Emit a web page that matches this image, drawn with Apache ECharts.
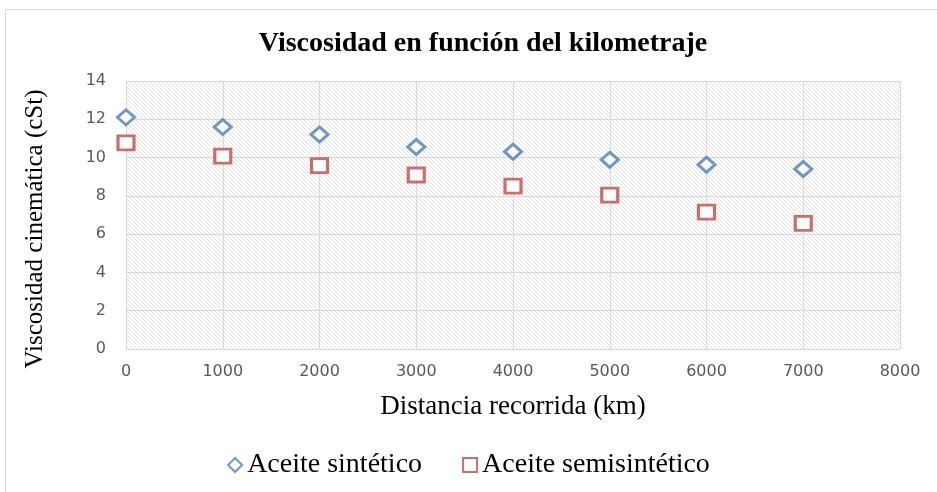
<!DOCTYPE html>
<html lang="es">
<head>
    <meta charset="UTF-8" />
    <title>Viscosidad</title>
    <style>
        html, body { margin: 0; padding: 0; background: #fff; }
    </style>
</head>
<body>
<div id="main" style="width: 937px; height: 492px;"></div>
<script src="https://cdn.jsdelivr.net/npm/echarts@6/dist/echarts.min.js"></script>
<script type="text/javascript">
    // datos
    var kilometros = [0, 1000, 2000, 3000, 4000, 5000, 6000, 7000];
    var sintetico = [12.1, 11.6, 11.2, 10.55, 10.3, 9.88, 9.62, 9.4];
    var semisintetico = [10.77, 10.08, 9.58, 9.09, 8.51, 8.04, 7.15, 6.56];
    var nombres = ['Aceite sintético', 'Aceite semisintético'];

    // rayado diagonal del fondo
    function hatch() {
        var c = document.createElement('canvas');
        c.width = 4; c.height = 4;
        var ctx = c.getContext('2d');
        ctx.fillStyle = '#ffffff';
        ctx.fillRect(0, 0, 4, 4);
        ctx.strokeStyle = '#e2e2e2';
        ctx.lineWidth = 1;
        for (var k = -4; k <= 4; k += 4) {
            ctx.beginPath();
            ctx.moveTo(k, 0);
            ctx.lineTo(k + 4, 4);
            ctx.stroke();
        }
        return c;
    }

    function pares(xs, ys) {
        var out = [];
        for (var i = 0; i < xs.length; i++) out.push([xs[i], ys[i]]);
        return out;
    }

    var myChart = echarts.init(document.getElementById('main'));
    var serif = '"Liberation Serif", "Times New Roman", serif';

    var option = {
        animation: false,
        title: {
            text: 'Viscosidad en función del kilometraje',
            left: 478,
            textAlign: 'center',
            top: 25,
            textStyle: { fontFamily: serif, fontSize: 28, fontWeight: 'bold', color: '#000' }
        },
        graphic: [{
            type: 'rect',
            shape: { x: 5.5, y: 9.5, width: 1000, height: 1000 },
            style: { fill: 'none', stroke: '#d9d9d9', lineWidth: 1 },
            silent: true
        }],
        legend: {
            bottom: 8,
            left: 'center',
            itemGap: 40,
            itemWidth: 14,
            itemHeight: 14,
            data: nombres,
            textStyle: { fontFamily: serif, fontSize: 28, color: '#000' }
        },
        grid: {
            left: 126,
            right: 37,
            top: 81,
            bottom: 143,
            show: true,
            borderWidth: 0,
            backgroundColor: { image: hatch(), repeat: 'repeat' }
        },
        xAxis: {
            type: 'value',
            min: 0,
            max: 8000,
            interval: 1000,
            name: 'Distancia recorrida (km)',
            nameLocation: 'middle',
            nameGap: 44,
            nameTextStyle: { fontFamily: serif, fontSize: 27, color: '#000' },
            axisLine: { show: true, lineStyle: { color: '#d9d9d9' } },
            axisTick: { show: false },
            axisLabel: {
                margin: 15,
                fontFamily: '"DejaVu Sans", sans-serif',
                fontSize: 16,
                color: '#595959',
                formatter: function (v) { return String(v); }
            },
            splitLine: { show: true, lineStyle: { color: '#d9d9d9' } }
        },
        yAxis: {
            type: 'value',
            min: 0,
            max: 14,
            interval: 2,
            name: 'Viscosidad cinemática (cSt)',
            nameLocation: 'middle',
            nameGap: 78,
            nameTextStyle: { fontFamily: serif, fontSize: 25, color: '#000', padding: [0, 28, 0, 0] },
            axisLine: { show: false },
            axisTick: { show: false },
            axisLabel: { margin: 20, fontFamily: '"DejaVu Sans", sans-serif', fontSize: 16, color: '#595959' },
            splitLine: { show: true, lineStyle: { color: '#d9d9d9' } }
        },
        series: [{
            name: nombres[0],
            type: 'scatter',
            symbol: 'diamond',
            symbolSize: [17, 15],
            itemStyle: { color: '#ffffff', borderColor: '#4a7ebb', borderWidth: 3 },
            data: pares(kilometros, sintetico)
        }, {
            name: nombres[1],
            type: 'scatter',
            symbol: 'rect',
            symbolSize: [16, 14],
            itemStyle: { color: '#ffffff', borderColor: '#be4b48', borderWidth: 3 },
            data: pares(kilometros, semisintetico)
        }]
    };

    myChart.setOption(option);
</script>
</body>
</html>
